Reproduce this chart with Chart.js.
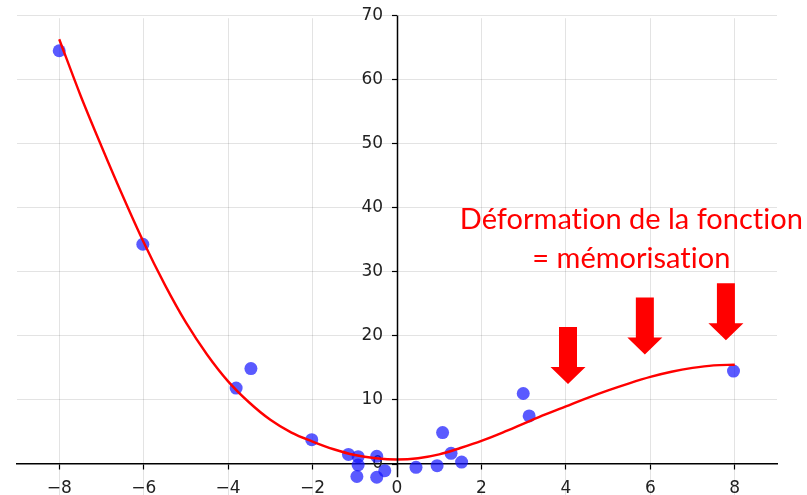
<!DOCTYPE html>
<html>
<head>
<meta charset="utf-8">
<script src="https://cdn.jsdelivr.net/npm/chart.js@4.4.1/dist/chart.umd.min.js"></script>
<style>
  html, body { margin: 0; padding: 0; background: #ffffff; overflow: hidden; }
  #wrap { width: 807px; height: 495px; overflow: hidden; }
  canvas { display: block; }
</style>
</head>
<body>
<div id="wrap"><canvas id="chart" width="807" height="522"></canvas></div>
<script>
// Observed samples
const sampleX = [-8.00, -6.02, -3.81, -3.46, -2.02, -1.15, -0.92, -0.92, -0.95, -0.48,
                 -0.48, -0.29, 0.45, 0.95, 1.08, 1.28, 1.53, 2.99, 3.13, 7.97];
const sampleY = [64.5, 34.3, 11.85, 14.9, 3.8, 1.5, 1.15, -0.16, -1.95, 1.2,
                 -2.07, -1.04, -0.52, -0.26, 4.9, 1.66, 0.3, 11.0, 7.5, 14.5];

// Fitted curve
const fitX = [-8, -7.5, -7, -6.5, -6, -5.5, -5, -4.5, -4, -3.5, -3, -2.5, -2, -1.5, -1, -0.5,
              0, 0.5, 1, 1.5, 2, 2.5, 3, 3.5, 4, 4.5, 5, 5.5, 6, 6.5, 7, 7.5, 8];
const fitY = [66.3, 57.6, 49.6, 41.9, 34.6, 28.0, 22.1, 17.1, 12.9, 9.6, 6.9, 4.9, 3.5, 2.3, 1.4, 0.9,
              0.7, 0.9, 1.5, 2.5, 3.6, 4.9, 6.3, 7.7, 9.0, 10.3, 11.5, 12.6, 13.6, 14.4, 15.0, 15.4, 15.5];

// Axis ticks
const xTicks = [-8, -6, -4, -2, 0, 2, 4, 6, 8];
const yTicks = [0, 10, 20, 30, 40, 50, 60, 70];

// Annotation
const noteLines = ['Déformation de la fonction', '= mémorisation'];
const noteAnchor = { x: 5.55, y: [38.2, 32.1] };
const arrowX = [4.05, 5.87, 7.79];
const arrowTop = [21.4, 26.0, 28.2];
const arrowTip = [12.5, 17.1, 19.3];

const TICK_FONT = { family: 'DejaVu Sans', size: 17 };
const GRID = 'rgba(0,0,0,0.11)';
// y labels sit against the spine; the trailing gap keeps them clear of it
const Y_LABEL_GAP = '\u2002\u0020';
// where the top tick and the zero line land on the page
const Y_PIN = { topValue: 70, topPx: 15.5, zeroPx: 464 };

const toPoints = (xs, ys) => xs.map((x, i) => ({ x: x, y: ys[i] }));
const minus = v => (v < 0 ? '\u2212' + Math.abs(v) : String(v));

// Left spine through x = 0, stopping just below the horizontal axis
const spinePlugin = {
  id: 'ySpine',
  afterDatasetsDraw(chart) {
    const { ctx, scales: { x, y } } = chart;
    const px = Math.round(x.getPixelForValue(0)) + 0.5;
    ctx.save();
    ctx.strokeStyle = '#000';
    ctx.lineWidth = 1.5;
    ctx.beginPath();
    ctx.moveTo(px, y.getPixelForValue(70));
    ctx.lineTo(px, y.getPixelForValue(-2.05));
    ctx.stroke();
    ctx.restore();
  }
};

// Red caption and down arrows
const notePlugin = {
  id: 'note',
  afterDraw(chart) {
    const { ctx, scales: { x, y } } = chart;
    ctx.save();
    ctx.fillStyle = '#ff0000';
    ctx.font = '29px Lato';
    ctx.textRendering = 'optimizeSpeed';
    ctx.textAlign = 'center';
    ctx.textBaseline = 'middle';
    noteLines.forEach((t, i) => {
      ctx.fillText(t, x.getPixelForValue(noteAnchor.x), y.getPixelForValue(noteAnchor.y[i]));
    });
    const shaftHalf = 9, headHalf = 17.5, headLen = 17;
    arrowX.forEach((ax, i) => {
      const cx = x.getPixelForValue(ax);
      const top = y.getPixelForValue(arrowTop[i]);
      const tip = y.getPixelForValue(arrowTip[i]);
      const neck = tip - headLen;
      ctx.beginPath();
      ctx.moveTo(cx - shaftHalf, top);
      ctx.lineTo(cx + shaftHalf, top);
      ctx.lineTo(cx + shaftHalf, neck);
      ctx.lineTo(cx + headHalf, neck);
      ctx.lineTo(cx, tip);
      ctx.lineTo(cx - headHalf, neck);
      ctx.lineTo(cx - shaftHalf, neck);
      ctx.closePath();
      ctx.fill();
    });
    ctx.restore();
  }
};

const chart = new Chart(document.getElementById('chart'), {
  type: 'scatter',
  data: {
    datasets: [
      {
        type: 'line',
        data: toPoints(fitX, fitY),
        borderColor: '#ff0000',
        borderWidth: 2.4,
        pointRadius: 0,
        tension: 0.4,
        cubicInterpolationMode: 'monotone',
        fill: false,
        order: 0
      },
      {
        data: toPoints(sampleX, sampleY),
        backgroundColor: 'rgba(20,20,255,0.7)',
        borderWidth: 0,
        pointRadius: 6.5,
        pointHoverRadius: 6.5,
        order: 1
      }
    ]
  },
  options: {
    responsive: false,
    animation: false,
    devicePixelRatio: 1,
    layout: { padding: { left: 17, right: 30, top: 12, bottom: 0 } },
    plugins: { legend: { display: false }, tooltip: { enabled: false } },
    scales: {
      x: {
        type: 'linear',
        min: -9,
        max: 9,
        position: { y: 0 },
        afterBuildTicks: s => { s.ticks = xTicks.map(v => ({ value: v })); },
        grid: {
          color: c => (c.tick && c.tick.value === 0 ? 'rgba(0,0,0,0)' : GRID),
          lineWidth: 1,
          tickColor: '#000',
          tickLength: 5,
          tickWidth: 1.2
        },
        border: { display: true, color: '#000', width: 1.5 },
        ticks: {
          font: TICK_FONT,
          color: '#222222',
          padding: 9,
          maxRotation: 0,
          callback: v => minus(v)
        }
      },
      y: {
        type: 'linear',
        min: -5,
        max: 70,
        position: { x: 0 },
        afterBuildTicks: s => { s.ticks = yTicks.map(v => ({ value: v })); },
        grid: {
          color: c => (c.tick && c.tick.value === 0 ? 'rgba(0,0,0,0)' : GRID),
          lineWidth: 1,
          tickColor: '#000',
          tickLength: 5,
          tickWidth: 1.2
        },
        border: { display: false },
        ticks: {
          font: TICK_FONT,
          color: '#222222',
          padding: 8,
          callback: v => minus(v) + Y_LABEL_GAP
        }
      }
    }
  },
  plugins: [spinePlugin, notePlugin]
});

// Stretch the y range so that the top tick and zero line sit at fixed pixels
const area = chart.chartArea;
const pxPerUnit = (Y_PIN.zeroPx - Y_PIN.topPx) / Y_PIN.topValue;
chart.options.scales.y.max = Y_PIN.topValue + (Y_PIN.topPx - area.top) / pxPerUnit;
chart.options.scales.y.min = -(area.bottom - Y_PIN.zeroPx) / pxPerUnit;
chart.update();
</script>
</body>
</html>
